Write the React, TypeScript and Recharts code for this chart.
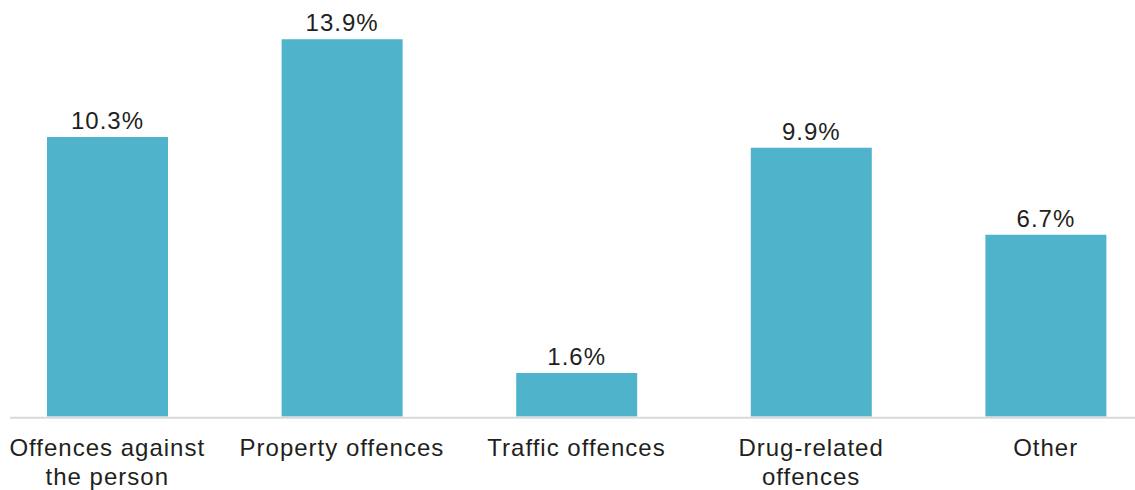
import React from "react";
import { BarChart, Bar, XAxis, YAxis, LabelList } from "recharts";

const categories = ["Offences against the person", "Property offences", "Traffic offences", "Drug-related offences", "Other"];
const tickLines: string[][] = [
  ["Offences against", "the person"],
  ["Property offences"],
  ["Traffic offences"],
  ["Drug-related", "offences"],
  ["Other"],
];
const values = [10.3, 13.9, 1.6, 9.9, 6.7];

const data = categories.map((c, i) => ({ name: c, value: values[i], idx: i }));

const FONT = "'Liberation Sans', Arial, sans-serif";
const TEXT = "#231f20";

const CategoryTick = (props: any) => {
  const { x, y, payload, index } = props;
  const lines = tickLines[payload?.index ?? index] || [String(payload.value)];
  return (
    <text x={x} y={y} textAnchor="middle" fill={TEXT} fontSize={24} fontFamily={FONT} letterSpacing={1}>
      {lines.map((l, i) => (
        <tspan key={i} x={x} y={y + 39 + i * 29}>
          {l}
        </tspan>
      ))}
    </text>
  );
};

export default function App() {
  return (
    <div style={{ position: "absolute", left: 0, top: 0, width: 1135, height: 490, background: "#fff" }}>
      <BarChart
        width={1135}
        height={490}
        data={data}
        margin={{ top: 36.5, right: 0, bottom: 0, left: 10 }}
        style={{ fontFamily: FONT }}
      >
        <XAxis
          dataKey="name"
          tick={<CategoryTick />}
          tickLine={false}
          tickSize={0}
          tickMargin={0}
          interval={0}
          height={73.5}
          padding={{ left: -20, right: -28 }}
          axisLine={{ stroke: "#d9d9d9", strokeWidth: 2, transform: "translate(0,1.2)" }}
        />
        <YAxis hide domain={[0, 14]} />
        <Bar dataKey="value" fill="#50b3cc" barSize={121} isAnimationActive={false}>
          <LabelList
            dataKey="value"
            position="top"
            offset={8}
            formatter={(v: any) => `${Number(v).toFixed(1)}%`}
            style={{ fontSize: 24, fill: TEXT, fontFamily: FONT, letterSpacing: 1 }}
          />
        </Bar>
      </BarChart>
    </div>
  );
}
